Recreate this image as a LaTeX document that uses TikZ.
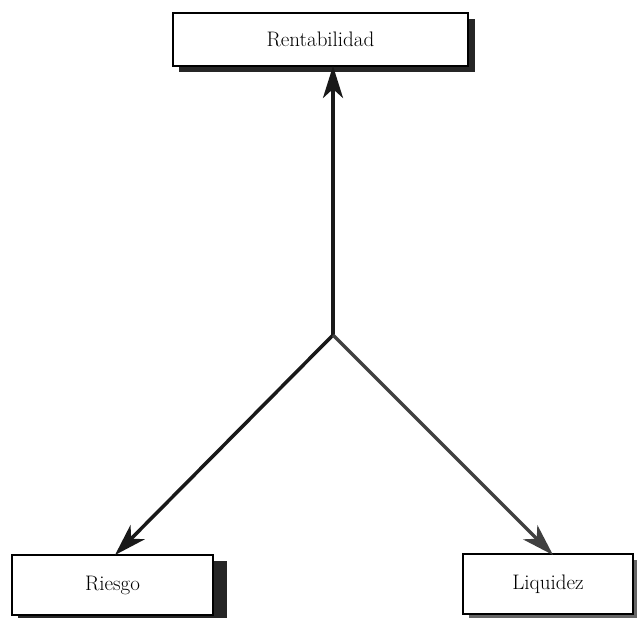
\documentclass[tikz,border=0pt]{standalone}
\usetikzlibrary{arrows.meta}
\begin{document}
\begin{tikzpicture}[x=1pt,y=-1pt,
  boxshape/.style={draw=black,line width=2pt,fill=white,inner sep=0pt,font=\fontsize{21}{25}\selectfont},
  conn/.style={line width=3.5pt,black!90,-{Stealth[length=32pt,width=20pt,inset=9pt]}}]
\useasboundingbox (0,0) rectangle (637,618);
% shadows
\fill[black!85] (179,19) rectangle (475,72);
\fill[black!85] (18,561) rectangle (227,618);
\fill[black!60] (469,560) rectangle (637,618);
% boxes
\node[boxshape,minimum width=295pt,minimum height=53pt] (rent) at (320.5,39.5) {Rentabilidad};
\node[boxshape,minimum width=201pt,minimum height=60pt] (ries) at (112.5,585) {Riesgo};
\node[boxshape,minimum width=170pt,minimum height=60pt] (liq) at (548,584) {Liquidez};
\coordinate (j) at (333,335);
\coordinate (rt) at (333,66);
\coordinate (riest) at (115,555);
\coordinate (liqt) at (553,555);
\draw[conn] (j) -- (rt);
\draw[conn] (j) -- (riest);
\draw[conn,black!75] (j) -- (liqt);
\end{tikzpicture}
\end{document}
